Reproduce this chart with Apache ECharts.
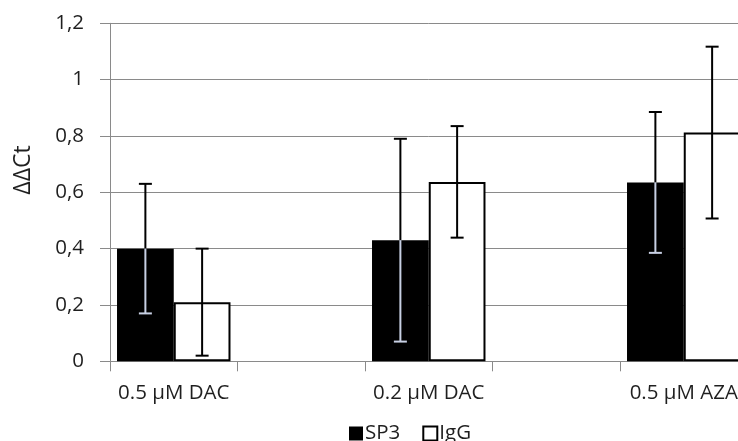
<!DOCTYPE html>
<html>
<head>
<meta charset="utf-8">
<script src="https://cdn.jsdelivr.net/npm/echarts@6/dist/echarts.min.js"></script>
<style>
html,body{margin:0;padding:0;background:#fff;overflow:hidden;width:738px;height:441px;}
#chart{width:748px;height:441px;}
</style>
</head>
<body>
<div id="chart"></div>
<script>
// ---- data ----
const categories = ['0.5 µM DAC', '', '0.2 µM DAC', '', '0.5 µM AZA'];
const sp3Values = [0.40, null, 0.43, null, 0.635];
const sp3Errors = [0.23, null, 0.36, null, 0.25];
const iggValues = [0.21, null, 0.637, null, 0.812];
const iggErrors = [0.19, null, 0.198, null, 0.305];
const yTickLabels = ['0', '0,2', '0,4', '0,6', '0,8', '1', '1,2'];
const seriesNames = ['SP3', 'IgG'];
const yAxisTitle = 'ΔΔCt';

const FONT = 'Open Sans';
const TXT = '#1f1f1f';
const GRID = '#8a8a8a';
const CAT_GAP = 0.11;
const FS = 20.5;

function errData(values, errors) {
  const out = [];
  values.forEach((v, i) => {
    if (v != null) out.push([i, v, v - errors[i], v + errors[i]]);
  });
  return out;
}

function makeErrRender(side, darkBar) {
  return function (params, api) {
    const idx = api.value(0);
    const val = api.value(1);
    const lo = api.value(2);
    const hi = api.value(3);
    const band = api.size([1, 0])[0];
    const w = band * (1 - CAT_GAP) / 2;
    const cx = api.coord([idx, 0])[0] + side * w / 2;
    const yv = api.coord([idx, val])[1];
    const yl = api.coord([idx, lo])[1];
    const yh = api.coord([idx, hi])[1];
    const cap = 6.5;
    const black = { stroke: '#000', lineWidth: 2 };
    const light = { stroke: '#c8d0e4', lineWidth: 2 };
    const children = [];
    if (darkBar) {
      children.push({ type: 'line', shape: { x1: cx, y1: yh, x2: cx, y2: yv }, style: black });
      children.push({ type: 'line', shape: { x1: cx, y1: yv, x2: cx, y2: yl }, style: light });
      children.push({ type: 'line', shape: { x1: cx - cap, y1: yh, x2: cx + cap, y2: yh }, style: black });
      children.push({ type: 'line', shape: { x1: cx - cap, y1: yl, x2: cx + cap, y2: yl }, style: light });
    } else {
      children.push({ type: 'line', shape: { x1: cx, y1: yh, x2: cx, y2: yl }, style: black });
      children.push({ type: 'line', shape: { x1: cx - cap, y1: yh, x2: cx + cap, y2: yh }, style: black });
      children.push({ type: 'line', shape: { x1: cx - cap, y1: yl, x2: cx + cap, y2: yl }, style: black });
    }
    return { type: 'group', children: children };
  };
}

const chart = echarts.init(document.getElementById('chart'), null, { renderer: 'canvas' });
chart.setOption({
  animation: false,
  backgroundColor: '#fff',
  textStyle: { fontFamily: FONT, color: TXT },
  grid: { left: 110, top: 23.3, right: 0.5, bottom: 79.7, containLabel: false },
  legend: {
    data: seriesNames,
    left: 349,
    top: 423,
    padding: 0,
    icon: 'rect',
    itemWidth: 14,
    itemHeight: 14,
    itemGap: 22,
    textStyle: { fontFamily: FONT, fontSize: FS, color: TXT, padding: [0, 0, 0, -3] }
  },
  graphic: [{
    type: 'text',
    x: 23,
    y: 170,
    rotation: Math.PI / 2,
    style: {
      text: yAxisTitle,
      fontFamily: FONT,
      fontSize: 23,
      fill: TXT,
      textAlign: 'center',
      textVerticalAlign: 'middle'
    }
  }],
  xAxis: {
    type: 'category',
    data: categories,
    boundaryGap: true,
    axisLine: { lineStyle: { color: GRID, width: 1 } },
    axisTick: { show: true, length: 10, interval: 0, lineStyle: { color: GRID } },
    axisLabel: { interval: 0, margin: 21, fontFamily: FONT, fontSize: FS, color: TXT },
    splitLine: { show: false }
  },
  yAxis: {
    type: 'value',
    min: 0,
    max: 1.2,
    interval: 0.2,
    axisLine: { show: true, lineStyle: { color: GRID, width: 1 } },
    axisTick: { show: true, length: 10, lineStyle: { color: GRID } },
    axisLabel: {
      margin: 26,
      fontFamily: FONT,
      fontSize: FS,
      color: TXT,
      formatter: v => yTickLabels[Math.round(v / 0.2)]
    },
    splitLine: { show: true, lineStyle: { color: GRID, width: 1 } }
  },
  series: [
    {
      name: seriesNames[0],
      type: 'bar',
      data: sp3Values,
      barGap: '0%',
      barCategoryGap: (CAT_GAP * 100) + '%',
      itemStyle: { color: '#000', borderColor: '#000', borderWidth: 0 },
      z: 2
    },
    {
      name: seriesNames[1],
      type: 'bar',
      data: iggValues,
      barGap: '0%',
      barCategoryGap: (CAT_GAP * 100) + '%',
      itemStyle: { color: '#fff', borderColor: '#000', borderWidth: 2 },
      z: 2
    },
    {
      name: 'SP3 error',
      type: 'custom',
      renderItem: makeErrRender(-1, true),
      data: errData(sp3Values, sp3Errors),
      encode: { x: 0, y: [1, 2, 3] },
      z: 5,
      silent: true
    },
    {
      name: 'IgG error',
      type: 'custom',
      renderItem: makeErrRender(1, false),
      data: errData(iggValues, iggErrors),
      encode: { x: 0, y: [1, 2, 3] },
      z: 5,
      silent: true
    }
  ]
});
</script>
</body>
</html>
